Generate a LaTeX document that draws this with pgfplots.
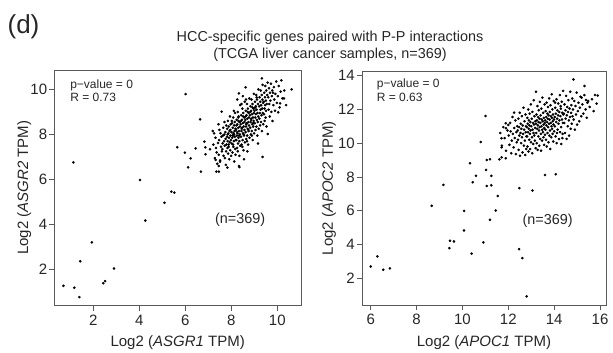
\documentclass[border=0pt]{standalone}
\usepackage{fontspec}
\setmainfont{Liberation Sans}
\usepackage{pgfplots}
\pgfplotsset{compat=1.18}
\pgfplotsset{
  rstyle/.style={
    scale only axis,
    axis line style={black!65, line width=0.6pt},
    tick align=outside,
    major tick length=5pt,
    tick style={black!65, line width=0.6pt},
    xtick pos=lower, ytick pos=left,
    tick label style={font=\fontsize{15}{17}\selectfont, text=black!85},
    label style={font=\fontsize{15}{17}\selectfont, text=black!85},
    /pgf/number format/assume math mode=true,
    xticklabel style={inner sep=1pt, yshift=-3pt},
    yticklabel style={inner sep=1pt, xshift=-1pt},
  },
  dots/.style={only marks, mark=*, mark size=1.1pt, color=black, mark options={fill=black, draw=black}},
}
\begin{document}
\begin{tikzpicture}[x=1pt,y=1pt]
\useasboundingbox (0,0) rectangle (613,353);
\node[font=\fontsize{26}{30}\selectfont, text=black!85, inner sep=0pt] at (23.5,326) {(d)};
\node[font=\fontsize{14.4}{16}\selectfont, text=black!85, inner sep=0pt] at (330,315.5) {HCC-specific genes paired with P-P interactions};
\node[font=\fontsize{14.4}{16}\selectfont, text=black!85, inner sep=0pt] at (330,298.5) {(TCGA liver cancer samples, n=369)};

\begin{axis}[rstyle, at={(54.3pt,47.3pt)}, anchor=south west,
  width=246.7pt, height=235.7pt,
  xmin=0.30, xmax=11.03, ymin=0.40, ymax=10.86,
  xtick={2,4,6,8,10}, ytick={2,4,6,8,10},
  xlabel={Log2 (\textit{ASGR1} TPM)}, ylabel={Log2 (\textit{ASGR2} TPM)},
  xlabel style={at={(axis description cs:0.5,-0.158)}, anchor=center},
  ylabel style={at={(axis description cs:-0.122,0.5)}, anchor=center}]
\addplot[dots] coordinates {
(0.70,1.28)(1.17,1.20)(1.39,0.78)(1.43,2.37)(1.93,3.21)(1.13,6.76)(2.43,1.40)(2.51,1.49)(2.90,2.05)(4.03,5.98)(4.26,4.18)(5.09,4.97)(5.39,5.46)(5.52,5.42)(6.01,9.79)(5.65,7.43)(5.98,7.19)(6.23,6.94)(6.12,6.54)(6.45,7.38)(6.68,6.35)(6.64,8.67)(6.83,7.68)(6.87,7.43)(6.88,7.12)(7.07,7.34)(7.19,8.15)(7.32,6.87)(7.35,6.35)(7.46,6.35)(7.45,6.60)(7.51,6.79)(7.58,9.01)(7.83,6.53)(8.35,6.55)(9.36,7.0)(9.58,8.02)(10.62,10.0)(9.33,10.49)(8.62,10.09)(8.33,9.82)(10.04,8.98)(10.12,9.38)(10.29,9.60)
(7.22,7.55)(7.28,6.95)(7.31,7.85)(7.36,7.2)(7.25,8.05)(7.39,6.7)(7.33,7.4)
(7.42,7.62)(7.45,7.1)(7.48,8.2)(7.51,6.85)(7.55,7.45)(7.57,7.9)(7.44,8.45)(7.59,7.25)(7.53,8.05)(7.47,7.75)
(7.61,7.35)(7.63,7.95)(7.65,8.3)(7.66,7.05)(7.68,7.7)(7.7,8.55)(7.71,7.5)(7.72,6.95)(7.74,8.1)(7.75,7.8)(7.77,7.25)(7.78,8.4)(7.62,7.6)(7.69,8.0)(7.76,6.65)(7.79,7.55)
(7.81,7.9)(7.82,8.25)(7.83,7.4)(7.84,7.7)(7.85,8.6)(7.86,7.15)(7.87,8.05)(7.88,7.55)(7.89,8.35)(7.9,7.85)(7.91,6.9)(7.92,8.15)(7.93,7.65)(7.94,8.8)(7.95,7.3)(7.96,7.95)(7.97,8.45)(7.98,7.75)(7.99,7.05)(7.84,8.0)(7.88,7.45)(7.96,8.2)
(8.01,8.1)(8.02,7.6)(8.03,8.5)(8.04,7.85)(8.05,7.2)(8.06,8.3)(8.07,7.95)(8.08,8.75)(8.09,7.45)(8.1,8.05)(8.11,7.7)(8.12,8.4)(8.13,6.8)(8.14,8.15)(8.15,7.9)(8.16,8.95)(8.17,7.35)(8.18,8.25)(8.19,7.75)(8.02,8.6)(8.05,7.95)(8.08,7.55)(8.12,8.0)(8.15,8.55)(8.18,7.1)(8.11,9.05)
(8.21,8.2)(8.22,7.75)(8.23,8.65)(8.24,7.95)(8.25,7.4)(8.26,8.45)(8.27,8.05)(8.28,9.0)(8.29,7.6)(8.3,8.3)(8.31,7.85)(8.32,8.8)(8.33,6.6)(8.34,8.15)(8.35,7.7)(8.36,8.55)(8.37,8.0)(8.38,9.3)(8.39,7.5)(8.22,8.4)(8.25,8.1)(8.28,7.25)(8.31,8.6)(8.34,7.95)(8.37,8.35)(8.26,9.55)(8.35,7.05)(8.3,8.75)
(8.41,8.45)(8.42,7.9)(8.43,8.85)(8.44,8.15)(8.45,7.55)(8.46,8.65)(8.47,8.3)(8.48,9.15)(8.49,7.75)(8.5,8.5)(8.51,8.05)(8.52,8.95)(8.53,7.3)(8.54,8.35)(8.55,7.95)(8.56,8.75)(8.57,8.2)(8.58,9.45)(8.59,7.65)(8.42,8.6)(8.45,8.25)(8.48,7.45)(8.51,8.8)(8.54,8.0)(8.57,8.55)(8.44,9.35)(8.55,6.9)(8.5,9.7)
(8.61,8.65)(8.62,8.1)(8.63,9.05)(8.64,8.35)(8.65,7.8)(8.66,8.85)(8.67,8.5)(8.68,9.35)(8.69,7.95)(8.7,8.7)(8.71,8.25)(8.72,9.15)(8.73,7.55)(8.74,8.55)(8.75,8.15)(8.76,8.95)(8.77,8.4)(8.78,9.6)(8.79,7.85)(8.62,8.8)(8.65,8.45)(8.68,7.7)(8.71,9.0)(8.74,8.2)(8.77,8.75)(8.64,9.55)(8.7,7.25)
(8.81,8.85)(8.82,8.3)(8.83,9.25)(8.84,8.55)(8.85,8.0)(8.86,9.05)(8.87,8.7)(8.88,9.55)(8.89,8.15)(8.9,8.9)(8.91,8.45)(8.92,9.35)(8.93,7.75)(8.94,8.75)(8.95,8.35)(8.96,9.15)(8.97,8.6)(8.98,9.8)(8.99,8.05)(8.83,9.0)(8.86,8.65)(8.89,7.95)(8.92,9.2)(8.95,8.5)(8.98,8.95)
(9.01,9.05)(9.02,8.5)(9.03,9.45)(9.04,8.75)(9.05,8.2)(9.06,9.25)(9.07,8.9)(9.08,9.75)(9.09,8.35)(9.1,9.1)(9.11,8.65)(9.12,9.55)(9.13,7.95)(9.14,8.95)(9.15,8.55)(9.16,9.35)(9.17,8.8)(9.18,10.0)(9.19,8.25)(9.04,9.2)(9.1,9.65)(9.16,7.6)
(9.21,9.25)(9.22,8.7)(9.23,9.65)(9.24,8.95)(9.25,8.4)(9.26,9.45)(9.27,9.1)(9.28,9.95)(9.29,8.55)(9.3,9.3)(9.31,8.85)(9.32,9.75)(9.33,8.15)(9.34,9.15)(9.35,9.55)(9.36,10.2)(9.37,8.95)(9.38,9.4)(9.39,8.45)
(9.41,9.45)(9.42,8.9)(9.43,9.85)(9.44,9.15)(9.45,8.6)(9.46,9.65)(9.47,9.3)(9.48,10.15)(9.49,8.75)(9.5,9.5)(9.51,9.05)(9.52,9.95)(9.53,8.35)(9.54,9.35)(9.56,9.75)(9.58,10.3)
(9.61,9.65)(9.62,9.1)(9.64,10.05)(9.65,9.35)(9.67,8.8)(9.68,9.85)(9.7,9.5)(9.72,10.25)(9.74,9.0)(9.76,9.7)(9.78,9.95)(9.79,8.6)
(9.81,9.85)(9.83,9.3)(9.85,10.1)(9.87,9.55)(9.9,9.05)(9.92,9.8)(9.95,10.35)(9.98,9.4)
(10.02,9.7)(10.06,10.15)(10.1,9.2)(10.14,9.9)(10.18,10.4)
(10.22,9.6)(10.3,9.95)(10.38,9.3)
};
\node[anchor=north west, align=left, inner sep=0pt, font=\fontsize{12}{13.2}\selectfont, text=black!85] at (rel axis cs:0.064,0.9605) {p−value = 0\\R = 0.73};
\node[font=\fontsize{14.4}{16}\selectfont, text=black!85] at (rel axis cs:0.753,0.366) {(n=369)};
\end{axis}

\begin{axis}[rstyle, at={(362pt,47.7pt)}, anchor=south west,
  width=244pt, height=234.3pt,
  xmin=5.62, xmax=16.26, ymin=0.38, ymax=14.28,
  xtick={6,8,10,12,14,16}, ytick={2,4,6,8,10,12,14},
  xlabel={Log2 (\textit{APOC1} TPM)}, ylabel={Log2 (\textit{APOC2} TPM)},
  xlabel style={at={(axis description cs:0.5,-0.158)}, anchor=center},
  ylabel style={at={(axis description cs:-0.135,0.5)}, anchor=center}]
\addplot[dots] coordinates {
(6.0,2.68)(6.29,3.28)(6.55,2.49)(6.84,2.57)(8.66,6.28)(9.17,7.52)(9.43,3.77)(9.46,4.21)(9.63,4.17)(10.07,5.98)(10.07,4.82)(10.40,3.44)(10.33,8.81)(10.45,7.68)(10.59,8.06)(10.80,10.07)(10.91,4.11)(11.03,8.41)(11.06,7.46)(11.06,9.0)(11.01,11.61)(11.20,9.04)(11.26,8.06)(11.26,7.50)(11.20,5.45)(11.45,6.0)(11.54,6.87)(11.61,9.04)(11.71,9.16)(11.89,9.10)(11.70,10.29)(11.71,9.75)(11.89,11.18)(11.90,10.88)(12.00,11.08)(12.47,3.71)(12.61,3.18)(12.80,0.91)(12.48,7.33)(13.05,7.19)(13.60,8.11)(14.07,8.15)(12.25,11.81)(13.21,13.05)(14.84,13.78)(15.32,13.39)(15.78,12.85)(15.90,12.82)(15.39,12.56)(15.45,12.40)(15.20,12.70)
(11.65,10.6)(11.72,9.85)(11.78,10.95)(11.84,10.3)(11.9,9.55)(11.96,10.75)
(12.02,10.45)(12.05,9.9)(12.08,11.2)(12.1,10.7)(12.13,9.4)(12.15,10.15)(12.18,11.55)(12.2,10.55)(12.23,9.75)(12.26,10.9)(12.28,10.3)(12.31,11.35)(12.33,9.35)(12.35,10.65)(12.37,10.05)(12.39,11.0)
(12.41,10.75)(12.42,10.2)(12.44,11.45)(12.45,9.6)(12.47,10.95)(12.48,10.45)(12.5,11.8)(12.51,9.25)(12.53,10.6)(12.54,11.15)(12.56,10.0)(12.57,10.85)(12.59,11.6)(12.6,10.35)(12.62,9.45)(12.63,11.05)(12.65,10.55)(12.66,12.1)(12.68,9.85)(12.69,10.8)(12.71,11.3)(12.72,10.15)(12.74,9.3)(12.75,11.7)(12.76,10.65)(12.77,11.0)(12.78,9.65)(12.79,10.4)
(12.81,10.95)(12.82,10.4)(12.83,11.5)(12.84,9.8)(12.85,11.15)(12.86,10.65)(12.87,12.0)(12.88,9.5)(12.89,10.85)(12.9,11.35)(12.91,10.2)(12.92,11.05)(12.93,11.75)(12.94,10.55)(12.95,9.65)(12.96,11.25)(12.97,10.75)(12.98,12.3)(12.99,10.05)(13.0,11.0)(13.02,11.45)(13.03,10.35)(13.04,9.4)(13.05,11.85)(13.06,10.8)(13.08,11.2)(13.09,9.95)(13.1,10.6)(13.11,12.55)(13.12,11.1)(13.13,10.45)(13.14,11.6)(13.16,10.15)(13.17,10.9)(13.18,11.3)(13.19,9.7)
(13.21,11.15)(13.22,10.6)(13.23,11.7)(13.24,10.0)(13.25,11.35)(13.26,10.85)(13.27,12.2)(13.28,9.6)(13.29,11.05)(13.3,11.55)(13.31,10.4)(13.32,11.25)(13.33,11.95)(13.34,10.75)(13.35,9.85)(13.36,11.45)(13.37,10.95)(13.38,12.45)(13.39,10.25)(13.4,11.2)(13.41,11.65)(13.42,10.55)(13.43,9.55)(13.44,12.05)(13.45,11.0)(13.46,11.4)(13.47,10.15)(13.48,10.8)(13.49,12.7)(13.5,11.3)(13.51,10.65)(13.52,11.8)(13.53,10.35)(13.54,11.1)(13.55,11.5)(13.56,9.9)(13.57,10.9)(13.58,12.3)(13.59,11.2)(13.6,10.5)
(13.61,11.35)(13.62,10.8)(13.63,11.9)(13.64,10.2)(13.65,11.55)(13.66,11.05)(13.67,12.4)(13.68,9.8)(13.69,11.25)(13.7,11.75)(13.71,10.6)(13.72,11.45)(13.73,12.15)(13.74,10.95)(13.75,10.05)(13.76,11.65)(13.77,11.15)(13.78,12.65)(13.79,10.45)(13.8,11.4)(13.81,11.85)(13.82,10.75)(13.83,9.65)(13.84,12.25)(13.85,11.2)(13.86,11.6)(13.87,10.35)(13.88,11.0)(13.89,12.9)(13.9,11.5)(13.91,10.85)(13.92,12.0)(13.93,10.55)(13.94,11.3)(13.95,11.7)(13.96,10.1)(13.97,11.1)(13.98,12.5)(13.99,11.4)(14.0,10.7)
(14.02,11.55)(14.03,11.0)(14.05,12.1)(14.06,10.4)(14.07,11.75)(14.09,11.25)(14.1,12.6)(14.11,10.0)(14.13,11.45)(14.14,11.95)(14.15,10.8)(14.17,11.65)(14.18,12.35)(14.19,11.15)(14.21,10.25)(14.22,11.85)(14.23,11.35)(14.25,12.85)(14.26,10.65)(14.27,11.6)(14.29,12.05)(14.3,10.95)(14.31,9.95)(14.33,12.45)(14.34,11.4)(14.35,11.8)(14.37,10.55)(14.38,11.2)(14.39,13.1)(14.4,11.7)(14.36,10.3)(14.28,12.2)(14.12,10.6)(14.04,12.4)
(14.42,11.75)(14.44,11.2)(14.45,12.3)(14.47,10.6)(14.49,11.95)(14.5,11.45)(14.52,12.8)(14.54,10.25)(14.55,11.65)(14.57,12.15)(14.59,11.0)(14.6,11.85)(14.62,12.55)(14.64,11.35)(14.65,10.45)(14.67,12.05)(14.69,11.55)(14.7,13.05)(14.72,10.85)(14.74,11.8)(14.75,12.25)(14.77,11.15)(14.79,12.65)(14.8,11.6)
(14.82,12.0)(14.85,11.4)(14.88,12.5)(14.9,10.8)(14.93,12.2)(14.95,11.7)(14.98,13.0)(15.0,11.1)(15.03,11.9)(15.06,12.4)(15.09,11.3)(15.12,12.1)(15.15,12.75)(15.18,11.6)
(15.23,12.3)(15.27,11.75)(15.32,12.85)(15.37,12.0)(15.42,11.5)(15.48,12.5)(15.55,12.15)
(15.65,12.6)(15.72,11.9)(15.85,12.35)
};
\node[anchor=north west, align=left, inner sep=0pt, font=\fontsize{12}{13.2}\selectfont, text=black!85] at (rel axis cs:0.060,0.966) {p−value = 0\\R = 0.63};
\node[font=\fontsize{14.4}{16}\selectfont, text=black!85] at (rel axis cs:0.761,0.36) {(n=369)};
\end{axis}
\end{tikzpicture}
\end{document}
